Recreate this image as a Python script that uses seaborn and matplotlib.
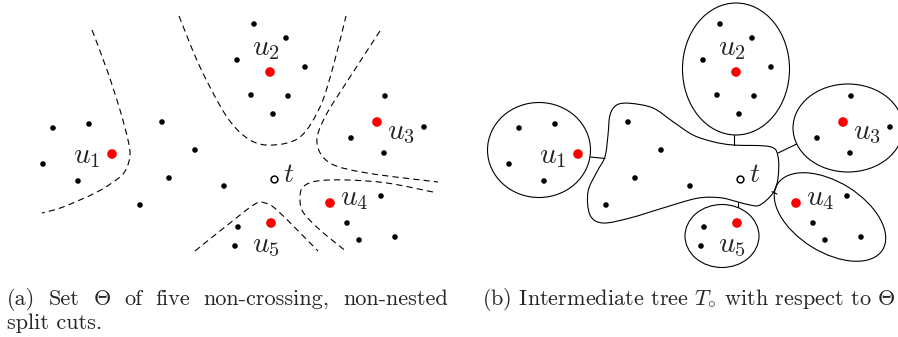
import numpy as np
import pandas as pd
import matplotlib
matplotlib.use("Agg")
import matplotlib.pyplot as plt
from matplotlib.path import Path
from matplotlib.patches import PathPatch, Ellipse
import seaborn as sns

# all coordinates are pixel-like positions in panel (a); panel (b) is the same set shifted right
shift = 466

plain_x = [254, 286, 237, 305, 251, 288, 273, 53, 89, 43, 78, 162, 195, 169, 224, 140,
           385, 424, 351, 384, 381, 347, 359, 395, 238, 235]
plain_y = [24, 38, 60, 67, 95, 96, 114, 128, 124, 164, 181, 122, 150, 178, 186, 205,
           96, 127, 138, 153, 196, 223, 240, 237, 227, 246]
root_x = [112, 270, 377, 330, 271]
root_y = [154, 72, 122, 203, 223]
root_names = ["$u_1$", "$u_2$", "$u_3$", "$u_4$", "$u_5$"]
label_x = [73, 252, 387, 340, 252]
label_y = [163, 55, 139, 205, 252]
t_x, t_y = 274, 179

# dashed split cuts, panel (a)
cut1_x = [92, 107, 120, 128, 130, 127, 120, 97, 63, 42]
cut1_y = [30, 70, 110, 140, 155, 167, 177, 192, 207, 213]
cut2_x = [179, 200, 227, 250, 273, 300, 320, 333, 346]
cut2_y = [16, 67, 117, 140, 145, 137, 107, 67, 16]
cut3_x = [380, 350, 325, 317, 330, 367, 438]
cut3_y = [31, 77, 117, 143, 163, 173, 182]
cut4_x = [433, 387, 347, 317, 303, 300, 303, 320, 347]
cut4_y = [192, 183, 180, 181, 187, 198, 212, 230, 252]
cut5_x = [195, 230, 255, 265, 278, 318]
cut5_y = [251, 223, 204, 203, 211, 251]

# panel (b): clusters as ellipses (cx, cy, width, height, angle)
ell_cx = [73, 270, 382, 364, 256]
ell_cy = [150, 69, 128, 217, 236]
ell_w = [103, 107, 110, 124, 74]
ell_h = [95, 132, 88, 70, 63]
ell_ang = [0, 0, 0, 32, 0]

blob_x = [142, 144, 150.7, 164, 187, 207, 227, 247, 267, 304, 312, 312, 307, 294, 284,
          271, 254, 231, 197, 164, 137, 124, 122, 131, 139]
blob_y = [135, 115, 105, 103.3, 108, 121.7, 135, 141.7, 145, 146.7, 156.7, 178, 193, 205, 205,
          201.7, 197.7, 198.3, 208, 218, 223, 215, 191.7, 171.7, 156.7]

edge_x0 = [124.7, 268, 312, 306, 271.7]
edge_y0 = [157, 135, 153, 191.7, 201.7]
edge_x1 = [139, 268, 330.7, 311, 271.7]
edge_y1 = [158.5, 145, 144, 194, 206.7]

cap_a_words = ["(a)", "Set", r"$\Theta$", "of", "five", "non-crossing,", "non-nested"]
cap_a_line2 = "split cuts."
cap_b = r"(b) Intermediate tree $T_{\circ}$ with respect to $\Theta$"


def smooth_path(xs, ys, dx=0, closed=False):
    p = np.column_stack([np.asarray(xs, float) + dx, np.asarray(ys, float)])
    n = len(p)
    if closed:
        get = lambda i: p[i % n]
        segs = n
    else:
        get = lambda i: p[min(max(i, 0), n - 1)]
        segs = n - 1
    verts = [get(0)]
    codes = [Path.MOVETO]
    for i in range(segs):
        a, b, c, d = get(i - 1), get(i), get(i + 1), get(i + 2)
        verts += [b + (c - a) / 6, c - (d - b) / 6, c]
        codes += [Path.CURVE4] * 3
    return Path(verts, codes)


sns.set_theme(style="white")
plt.rcParams["mathtext.fontset"] = "cm"
plt.rcParams["lines.scale_dashes"] = False
plt.rcParams["axes.unicode_minus"] = False

fig = plt.figure(figsize=(8.98, 3.37), dpi=100)
ax = fig.add_axes([0, 0, 1, 1])
ax.set_xlim(0, 898)
ax.set_ylim(337, 0)

# cuts in panel (a)
for cx, cy in [(cut1_x, cut1_y), (cut2_x, cut2_y), (cut3_x, cut3_y),
               (cut4_x, cut4_y), (cut5_x, cut5_y)]:
    ax.add_patch(PathPatch(smooth_path(cx, cy), fill=False, ec="black", lw=0.8,
                           ls=(0, (4.5, 3)), zorder=1))

# tree in panel (b)
for cx, cy, w, h, a in zip(ell_cx, ell_cy, ell_w, ell_h, ell_ang):
    ax.add_patch(Ellipse((cx + shift, cy), w, h, angle=a, fill=False, ec="black",
                         lw=0.8, zorder=1))
ax.add_patch(PathPatch(smooth_path(blob_x, blob_y, dx=shift, closed=True), fill=False,
                       ec="black", lw=0.8, zorder=1))
for x0, y0, x1, y1 in zip(edge_x0, edge_y0, edge_x1, edge_y1):
    ax.plot([x0 + shift, x1 + shift], [y0, y1], color="black", lw=0.8, zorder=1)

# points for both panels
rows = []
for dx in (0, shift):
    rows += [{"x": x + dx, "y": y, "kind": "plain"} for x, y in zip(plain_x, plain_y)]
    rows += [{"x": x + dx, "y": y, "kind": "root"} for x, y in zip(root_x, root_y)]
pts = pd.DataFrame(rows)
sns.scatterplot(data=pts, x="x", y="y", hue="kind", size="kind",
                palette={"plain": "black", "root": "red"},
                sizes={"plain": 16, "root": 48}, linewidth=0, legend=False,
                ax=ax, zorder=3)
ax.scatter([t_x, t_x + shift], [t_y, t_y], s=24, facecolor="white", edgecolor="black",
           linewidth=1.1, zorder=3)

for dx in (0, shift):
    for name, lx, ly in zip(root_names, label_x, label_y):
        ax.text(lx + dx, ly, name, fontsize=21, ha="left", va="baseline", zorder=4)
    ax.text(283 + dx, 182, "$t$", fontsize=20, ha="left", va="baseline", zorder=4)

# captions; first line of (a) is justified between x=7 and x=448
cap = dict(fontsize=16, family="cmr10", va="baseline", ha="left")
texts = [ax.text(0, 305, w, **cap) for w in cap_a_words]
fig.canvas.draw()
rend = fig.canvas.get_renderer()
widths = [t.get_window_extent(rend).width for t in texts]
gap = (448 - 7 - sum(widths)) / (len(texts) - 1)
pos = 7
for t, w in zip(texts, widths):
    t.set_x(pos)
    pos += w + gap
ax.text(7, 329, cap_a_line2, **cap)
ax.text(482, 305, cap_b, **cap)

ax.axis("off")
fig.savefig("out.png", dpi=100)
